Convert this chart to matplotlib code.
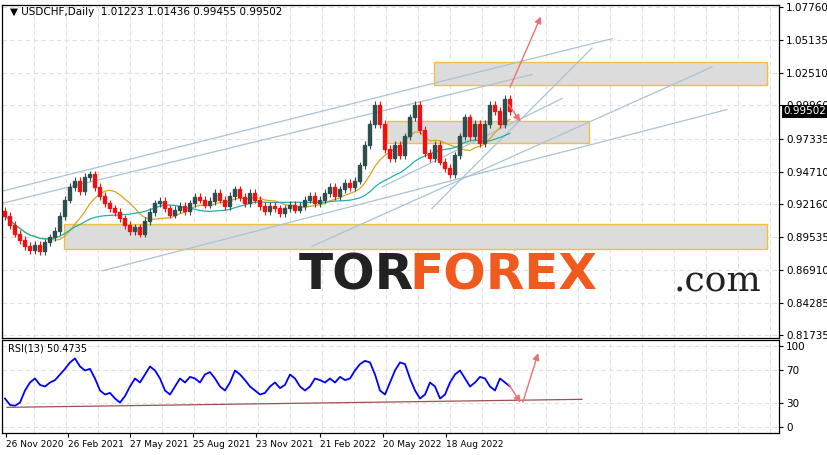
import numpy as np
import pandas as pd
import matplotlib
matplotlib.use("Agg")
import matplotlib.pyplot as plt
from matplotlib.patches import Rectangle

closes = [
    0.912, 0.905, 0.898, 0.893, 0.888, 0.885, 0.889, 0.884, 0.891, 0.895,
    0.900, 0.912, 0.925, 0.935, 0.940, 0.932, 0.943, 0.945, 0.935, 0.928,
    0.922, 0.918, 0.915, 0.910, 0.905, 0.900, 0.903, 0.898, 0.908, 0.915,
    0.922, 0.924, 0.918, 0.913, 0.917, 0.920, 0.916, 0.922, 0.927, 0.925,
    0.921, 0.924, 0.930, 0.925, 0.920, 0.928, 0.933, 0.927, 0.922, 0.930,
    0.925, 0.920, 0.916, 0.920, 0.918, 0.914, 0.918, 0.921, 0.917, 0.920,
    0.925, 0.928, 0.922, 0.925, 0.930, 0.935, 0.928, 0.933, 0.938, 0.935,
    0.940, 0.952, 0.968, 0.985, 1.000, 0.985, 0.965, 0.958, 0.968, 0.960,
    0.975, 0.990, 1.000, 0.980, 0.962, 0.958, 0.968, 0.955, 0.950, 0.945,
    0.960, 0.975, 0.990, 0.975, 0.985, 0.970, 0.985, 1.000, 0.995, 0.985,
    1.005, 0.995,
]
rsi = [
    35, 27, 26, 30, 45, 55, 60, 52, 50, 55,
    58, 65, 72, 80, 85, 75, 70, 72, 60, 45,
    40, 42, 35, 30, 38, 50, 60, 55, 65, 75,
    70, 60, 45, 40, 50, 60, 55, 62, 60, 55,
    65, 68, 60, 50, 45, 55, 70, 65, 58, 50,
    45, 40, 42, 50, 55, 48, 52, 65, 60, 50,
    45, 50, 60, 58, 55, 60, 55, 62, 58, 60,
    70, 78, 82, 80, 65, 45, 40, 55, 70, 80,
    78, 60, 45, 35, 40, 55, 50, 35, 40, 55,
    65, 70, 60, 50, 55, 62, 60, 50, 45, 60,
    55, 50,
]
date_labels = ["26 Nov 2020", "26 Feb 2021", "27 May 2021", "25 Aug 2021",
               "23 Nov 2021", "21 Feb 2022", "20 May 2022", "18 Aug 2022"]
date_pos = [4, 66, 128, 191, 254, 318, 381, 444]
price_ticks = [0.81735, 0.84285, 0.86910, 0.89535, 0.92160, 0.94710,
               0.97335, 0.99960, 1.02510, 1.05135, 1.07760]

x = 3 + 5 * np.arange(len(closes))
c = np.array(closes)
o = np.r_[c[0] + 0.004, c[:-1]]

fig = plt.figure(figsize=(8.28, 4.55), dpi=100)
ax = fig.add_axes([2 / 828, 1 - 338 / 455, 777 / 828, 333 / 455])
ar = fig.add_axes([2 / 828, 1 - 433 / 455, 777 / 828, 93 / 455])

for a in (ax, ar):
    a.set_xlim(0, 777)
    a.yaxis.tick_right()
    a.tick_params(axis="y", labelsize=7.5, length=3, pad=2)
    a.grid(True, axis="y", ls=(0, (4, 3)), color="#e0e0e0", lw=0.8)
    for gx in np.arange(0, 777, 32):
        a.axvline(gx, ls=(0, (4, 3)), color="#e0e0e0", lw=0.8, zorder=0)
    a.set_axisbelow(True)
    for s in a.spines.values():
        s.set_linewidth(0.9)

ax.set_ylim(0.81735 - 0.002, 1.07760 + 0.0015)
ax.set_yticks(price_ticks)
ax.set_yticklabels([f"{t:.5f}" for t in price_ticks])
ax.set_xticks([])

# zones
for x0, x1, y0, y1 in [(432, 765, 1.016, 1.034), (385, 587, 0.970, 0.987), (62, 765, 0.886, 0.906)]:
    ax.add_patch(Rectangle((x0, y0), x1 - x0, y1 - y0, fc="#dcdcdc", ec="#f0c040", lw=1, zorder=1))

# trend lines
for (x0, y0), (x1, y1) in [((0, 0.9316), (610, 1.0524)), ((0, 0.922), (530, 1.024)),
                           ((100, 0.8685), (725, 0.9963)), ((310, 0.888), (710, 1.030)),
                           ((430, 0.918), (590, 1.045)), ((380, 0.935), (560, 1.005))]:
    ax.plot([x0, x1], [y0, y1], color="#a9c4d4", lw=0.9, zorder=2)

s = pd.Series(c)
ma1 = s.rolling(10, min_periods=1).mean()
ma2 = s.rolling(22, min_periods=1).mean()
ax.plot(x, ma1, color="#d9a521", lw=0.9, zorder=3)
ax.plot(x, ma2, color="#20b2aa", lw=0.9, zorder=3)

for xi, oi, ci in zip(x, o, c):
    col = "#2f4f4f" if ci >= oi else "#ee1111"
    ax.vlines(xi, min(oi, ci) - 0.003, max(oi, ci) + 0.003, color=col, lw=0.8, zorder=4)
    ax.add_patch(Rectangle((xi - 1.5, min(oi, ci)), 3, max(abs(ci - oi), 0.0008), color=col, zorder=4))

ax.annotate("", xy=(540, 1.072), xytext=(507, 1.012),
            arrowprops=dict(arrowstyle="-|>", color="#f07070", lw=1), zorder=5)
ax.annotate("", xy=(520, 0.985), xytext=(505, 1.002),
            arrowprops=dict(arrowstyle="-|>", color="#f07070", lw=1), zorder=5)

ax.text(8, 1.0735, "▼ USDCHF,Daily  1.01223 1.01436 0.99455 0.99502", fontsize=7.5, va="center")
ax.text(781, 0.99502, "0.99502", fontsize=7.5, color="white", va="center",
        ha="left", bbox=dict(fc="black", ec="none", pad=1), clip_on=False, zorder=10)

# logo
ax.text(297, 0.865, "TOR", fontsize=36, fontweight="black", family="DejaVu Sans",
        color="#222222", va="center", zorder=6)
ax.text(407, 0.865, "FOREX", fontsize=36, fontweight="black", family="DejaVu Sans",
        color="#f05a1e", va="center", zorder=6)
ax.text(672, 0.860, ".com", fontsize=26, family="DejaVu Serif", color="#222222", va="center", zorder=6)

ar.set_ylim(-8, 108)
ar.set_yticks([0, 30, 70, 100])
ar.set_xticks(date_pos, date_labels)
ar.tick_params(axis="x", labelsize=6.5, length=3, pad=2)
for lbl in ar.get_xticklabels():
    lbl.set_horizontalalignment("left")
ar.plot(x, rsi, color="#0000ff", lw=1.3)
ar.plot([5, 580], [24, 34], color="#a05050", lw=0.9)
ar.annotate("", xy=(520, 27), xytext=(505, 56), arrowprops=dict(arrowstyle="-|>", color="#f07070", lw=1))
ar.annotate("", xy=(537, 95), xytext=(520, 27), arrowprops=dict(arrowstyle="-|>", color="#f07070", lw=1))
ar.text(6, 97, "RSI(13) 50.4735", fontsize=7, va="center")

fig.savefig("out.png", dpi=100)
